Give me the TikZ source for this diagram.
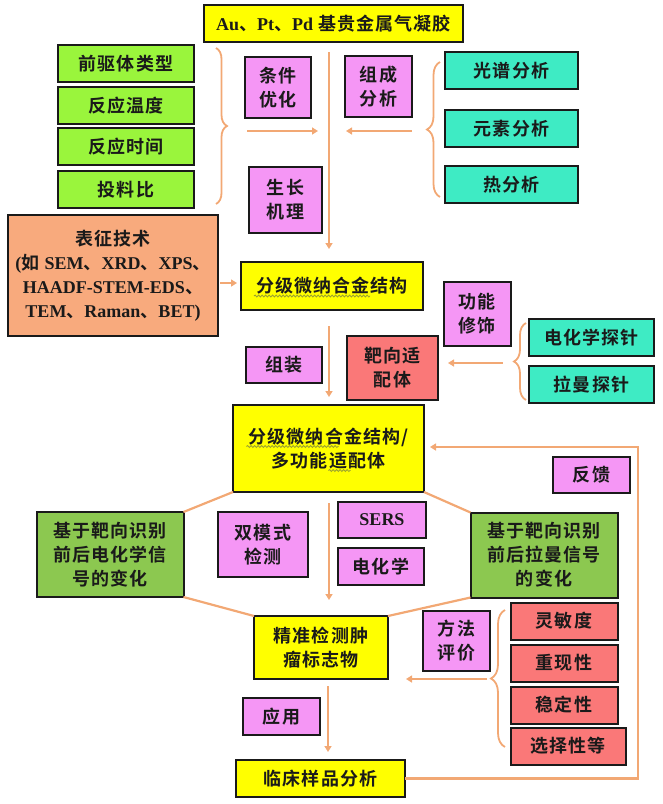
\documentclass[tikz,border=0pt]{standalone}
\usepackage{fontspec}
\setmainfont{Liberation Serif}
\newfontfamily\cjk[LetterSpace=6,BoldFont={Noto Sans CJK SC Bold}]{Noto Sans CJK SC}
\usetikzlibrary{arrows.meta,calc,positioning,decorations.pathreplacing,decorations.pathmorphing}
\definecolor{Ink}{HTML}{1A1A1A}
\definecolor{Lemon}{HTML}{FFFF00}
\definecolor{Lime}{HTML}{9AF53C}
\definecolor{Aqua}{HTML}{3EEBC4}
\definecolor{Orchid}{HTML}{F596F5}
\definecolor{Salmon}{HTML}{FA7878}
\definecolor{Peach}{HTML}{F8AA7D}
\definecolor{Leaf}{HTML}{8CC850}
\definecolor{Amber}{HTML}{F2A874}
\definecolor{Olive}{HTML}{9AA030}
\newcommand\en[1]{{\rmfamily\bfseries #1}}
\tikzset{
  box/.style={
    draw=Ink, line width=2pt, outer sep=0pt, align=center, inner sep=2pt,
    text=Ink, font=\cjk\bfseries\fontsize{18}{24}\selectfont
  },
  gel/.style={box, fill=Lemon},
  factor/.style={box, fill=Lime, minimum width=136pt, minimum height=37pt},
  assay/.style={box, fill=Aqua, minimum width=133pt, minimum height=37pt},
  method/.style={box, fill=Orchid},
  metric/.style={box, fill=Salmon, minimum width=107pt, minimum height=37pt},
  signal/.style={box, fill=Leaf, minimum width=147pt, minimum height=85pt},
  flow/.style={-{Triangle[length=6pt,width=7pt]}, line width=2.2pt, draw=Amber},
  link/.style={line width=2.2pt, draw=Amber},
  curly/.style={decorate, decoration={brace, amplitude=#1}, line width=1.8pt, draw=Amber},
  squiggle/.style={decorate, decoration={snake, amplitude=1pt, segment length=3.5pt}, line width=0.8pt, draw=Olive}
}

\begin{document}
\begin{tikzpicture}[x=1pt,y=-1pt]
  \useasboundingbox (0,0) rectangle (663,804);
  % synthesis
  \node[gel, minimum width=259pt, minimum height=37pt] (gel) at (333.5,23.5) {\en{Au}、\en{Pt}、\en{Pd} 基贵金属气凝胶};
  \node[factor] (precursor) at (126,63.5) {前驱体类型};
  \node[factor, below=5pt of precursor] (temp) {反应温度};
  \node[factor, below=4pt of temp] (time) {反应时间};
  \node[factor, below=6pt of time] (ratio) {投料比};
  \node[assay] (spectra) at (511.5,70.5) {光谱分析};
  \node[assay, below=21pt of spectra] (element) {元素分析};
  \node[assay, below=19pt of element] (thermal) {热分析};
  \node[method, minimum width=66pt, minimum height=61pt] (optim) at (278,87.5) {条件\\优化};
  \node[method, minimum width=67pt, minimum height=61pt] (compo) at (378.5,86.5) {组成\\分析};
  \node[method, minimum width=73pt, minimum height=66pt] (growth) at (285.5,200) {生长\\机理};
  \node[box, fill=Peach, minimum width=210pt, minimum height=121pt] (charac) at (113,275.5)
    {表征技术\\\en{(}如 \en{SEM}、\en{XRD}、\en{XPS}、\\\en{HAADF-STEM-EDS}、\\\en{TEM}、\en{Raman}、\en{BET)}};
  \node[gel, minimum width=182pt, minimum height=48pt] (alloy) at (332,286) {分级微纳合金结构};
  % assembly
  \node[method, minimum width=67pt, minimum height=64pt] (modify) at (477,314) {功能\\修饰};
  \node[assay, minimum width=125pt] (ecprobe) at (591.5,337.5) {电化学探针};
  \node[assay, minimum width=125pt, below=10pt of ecprobe] (ramanprobe) {拉曼探针};
  \node[box, fill=Salmon, minimum width=91pt, minimum height=64pt] (aptamer) at (392.5,368) {靶向适\\配体};
  \node[method, minimum width=76pt, minimum height=36pt] (assembly) at (284,365) {组装};
  \node[gel, minimum width=191pt, minimum height=87pt] (hybrid) at (328.5,448.5) {分级微纳合金结构/\\多功能适配体};
  \node[method, minimum width=77pt, minimum height=36pt] (feedback) at (591.5,474.5) {反馈};
  % detection
  \node[signal] (ecsignal) at (110,554.5) {基于靶向识别\\前后电化学信\\号的变化};
  \node[signal] (ramansignal) at (544,555) {基于靶向识别\\前后拉曼信号\\的变化};
  \node[method, minimum width=90pt, minimum height=65pt] (dual) at (263,544.5) {双模式\\检测};
  \node[method, minimum width=88pt, minimum height=36pt] (sers) at (382,520) {\en{SERS}};
  \node[method, minimum width=86pt, minimum height=37pt] (echem) at (381,566.5) {电化学};
  \node[gel, minimum width=134pt, minimum height=63pt] (marker) at (321,647.5) {精准检测肿\\瘤标志物};
  \node[method, minimum width=67pt, minimum height=60pt] (evaluate) at (456.5,641) {方法\\评价};
  \node[metric] (sensitivity) at (564,621) {灵敏度};
  \node[metric, below=5pt of sensitivity] (reproduce) {重现性};
  \node[metric, below=5pt of reproduce] (stability) {稳定性};
  \node[metric, minimum width=115pt, below=4pt of stability.south west, anchor=north west] (selectivity) {选择性等};
  \node[method, minimum width=77pt, minimum height=37pt] (apply) at (281.5,716.5) {应用};
  \node[gel, minimum width=169pt, minimum height=37pt] (clinic) at (320.5,778.5) {临床样品分析};
  % braces
  \draw[curly=11pt] (216,48) -- (216,204);
  \draw[curly=13pt] (440,197) -- (440,62);
  \draw[curly=12pt] (526,400) -- (526,323);
  \draw[curly=14pt] (505,747) -- (505,610);
  \coordinate (axis) at (329,0);
  \coordinate (left) at (247,131);
  \coordinate (right) at (412,131);
  \coordinate (probe) at (503,363);
  \coordinate (merit) at (487,679);
  \coordinate (loop) at (638,447);
  % connectors
  \draw[flow, shorten <=10pt, shorten >=13pt] (axis |- gel.south) -- (axis |- alloy.north);
  \draw[flow, shorten >=11pt] (left) -- (axis |- left);
  \draw[flow, shorten >=17pt] (right) -- (axis |- right);
  \draw[flow, shorten <=2pt, shorten >=4pt] (charac.east |- 0,283) -- (alloy.west |- 0,283);
  \draw[flow, shorten <=16pt, shorten >=8pt] (axis |- alloy.south) -- (axis |- hybrid.north);
  \draw[flow, shorten >=10pt] (probe) -- (aptamer.east |- probe);
  \draw[flow, shorten <=11pt, shorten >=16pt] (axis |- hybrid.south) -- (axis |- marker.north);
  \draw[flow, shorten >=18pt] (merit) -- (marker.east |- merit);
  \draw[flow, shorten <=7pt, shorten >=8pt] ([xshift=-1pt]axis |- marker.south) -- ([xshift=-1pt]axis |- clinic.north);
  \draw[flow, shorten >=6pt] (clinic.east) -| (loop) -- (hybrid.east |- loop);
  \draw[link] (hybrid.south west) -- (ecsignal.north east);
  \draw[link] (ecsignal.south east) -- (marker.north west);
  \draw[link] (hybrid.south east) -- (ramansignal.north west);
  \draw[link] (ramansignal.south west) -- (marker.north east);
  % spelling marks
  \draw[squiggle] ($(alloy.center)+(-78,10)$) -- ++(116,0);
  \draw[squiggle] ($(hybrid.center)+(-82,-2)$) -- ++(92,0);
  \draw[squiggle] ($(hybrid.center)+(0,22)$) -- ++(22,0);
\end{tikzpicture}
\end{document}
